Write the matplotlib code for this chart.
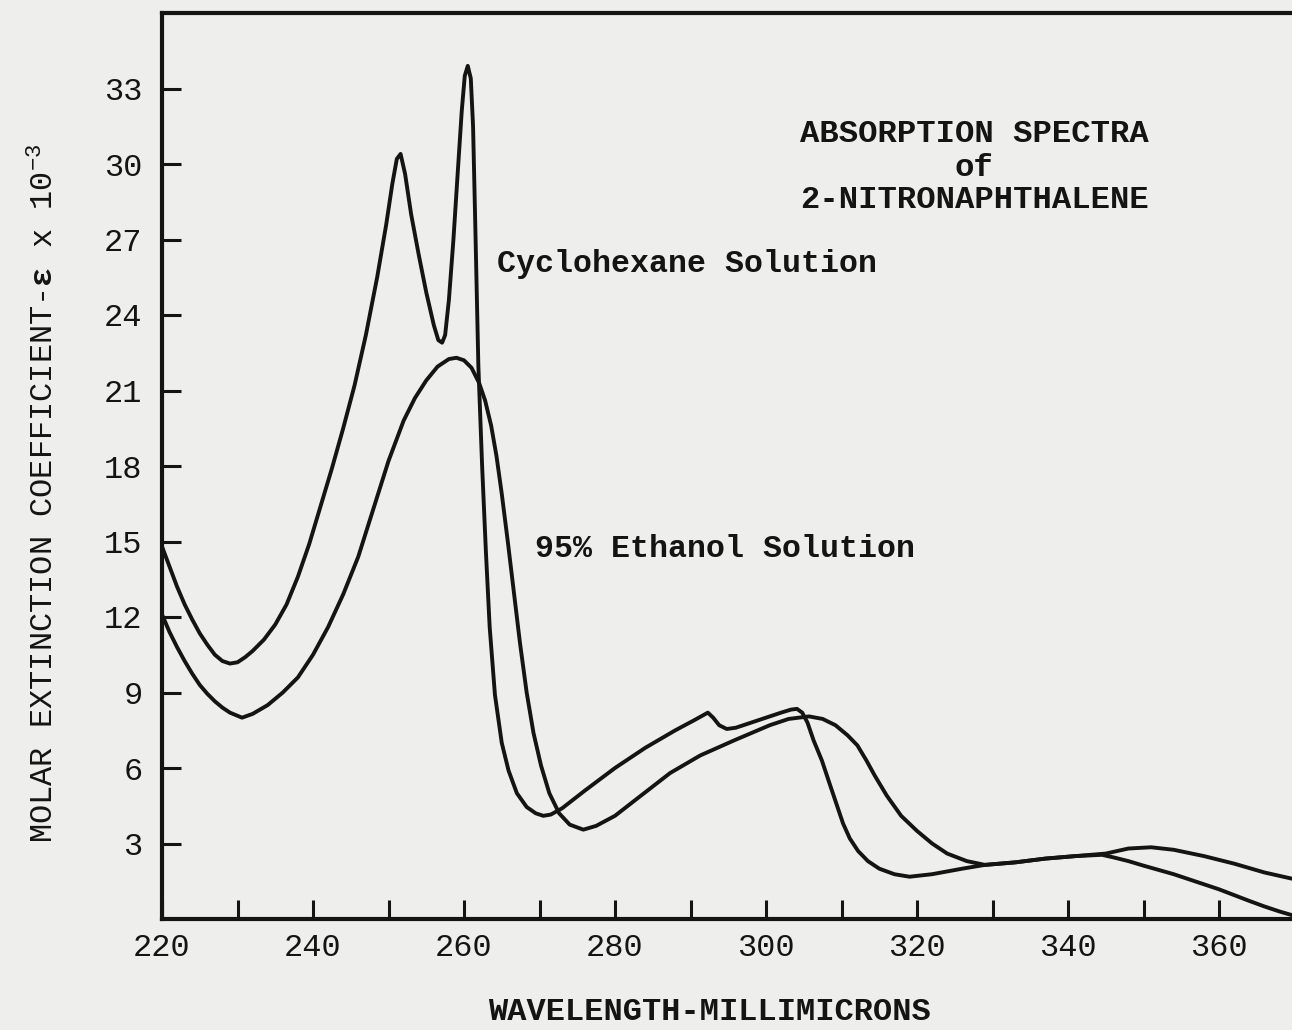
import matplotlib
matplotlib.use("Agg")
import matplotlib.pyplot as plt

# ---- data (wavelength in millimicrons, molar extinction x 1e-3) ----
cyclo_wl = [220, 221, 222, 223, 224, 225, 226, 227, 228, 229, 230, 231, 232, 233.5,
            235, 236.5, 238, 239.5, 241, 242.5, 244, 245.5, 247, 248.5, 249.7,
            250.5, 251.1, 251.6, 252.2, 253, 254, 255, 256, 256.6, 257.1, 257.5,
            258, 258.6, 259.2, 259.7, 260.1, 260.5, 260.9, 261.2, 261.5, 261.9,
            262.4, 262.9, 263.4, 264.1, 265, 265.9, 267, 268.3, 269.5, 270.5,
            271.5, 273, 276, 280, 284, 288, 290.5, 291.7, 292.3, 293, 293.8,
            294.8, 296, 298, 300, 302, 303.3, 304.1, 304.8, 305.5, 306.3, 307.4,
            308.4, 309.3, 310.2, 311.1, 312.2, 313.5, 315, 317, 319, 322, 326,
            329, 333, 337, 341, 344.5, 346, 348, 350, 352, 354, 356, 358, 360,
            362, 364, 366, 368, 369.7]
cyclo_eps = [14.8, 14.0, 13.2, 12.5, 11.9, 11.35, 10.9, 10.5, 10.25, 10.15, 10.2, 10.4,
             10.65, 11.1, 11.7, 12.5, 13.6, 14.9, 16.4, 17.9, 19.5, 21.2, 23.2, 25.5,
             27.6, 29.2, 30.2, 30.4, 29.6, 28.0, 26.4, 24.9, 23.6, 23.0, 22.9, 23.2,
             24.6, 27.0, 29.8, 32.1, 33.5, 33.9, 33.4, 31.5, 27.5, 22.0,
             18.0, 14.6, 11.6, 8.9, 7.0, 5.9, 5.0, 4.45, 4.2, 4.1,
             4.15, 4.4, 5.1, 6.0, 6.8, 7.5, 7.9, 8.1, 8.2, 8.0, 7.7,
             7.55, 7.6, 7.8, 8.0, 8.2, 8.32, 8.35, 8.2, 7.8, 7.1, 6.3,
             5.4, 4.6, 3.8, 3.2, 2.7, 2.3, 2.0, 1.78, 1.68, 1.78, 2.0,
             2.15, 2.25, 2.4, 2.5, 2.55, 2.45, 2.3, 2.12, 1.95, 1.78, 1.58, 1.38, 1.18,
             0.95, 0.72, 0.5, 0.3, 0.15]

ethanol_wl = [220, 221, 222, 223, 224, 225, 226, 227, 228, 229, 230.6, 232, 234, 236,
              238, 240, 242, 244, 246, 248, 250, 252, 253.5, 255, 256.5, 258, 259,
              260, 261, 262, 262.8, 263.6, 264.3, 265, 265.8, 266.6, 267.4, 268.3,
              269.2, 270.2, 271.3, 272.6, 274, 275.8, 277.5, 280, 283, 287.3, 291.3,
              295.8, 300.5, 303, 305.7, 307.5, 309.2, 310.8, 312.1, 313.3, 314.4,
              316, 317.9, 320, 322, 324, 326.6, 329, 333, 337, 341, 345, 348, 351,
              354, 358, 362, 366, 369.7]
ethanol_eps = [12.1, 11.4, 10.8, 10.25, 9.75, 9.3, 8.95, 8.65, 8.4, 8.2, 8.0, 8.15, 8.5,
               9.0, 9.6, 10.5, 11.6, 12.9, 14.4, 16.3, 18.2, 19.8, 20.7, 21.4, 21.95,
               22.25, 22.3, 22.2, 21.9, 21.3, 20.6, 19.6, 18.4, 16.9, 15.0, 13.0, 11.0,
               9.0, 7.4, 6.1, 5.0, 4.2, 3.75, 3.55, 3.7, 4.1, 4.8, 5.8, 6.5,
               7.1, 7.7, 7.95, 8.05, 7.95, 7.7, 7.3, 6.9, 6.3, 5.7,
               4.9, 4.1, 3.5, 3.0, 2.6, 2.3, 2.15, 2.25, 2.4, 2.5, 2.6, 2.8, 2.85,
               2.75, 2.5, 2.2, 1.85, 1.6]

x_major = [220, 240, 260, 280, 300, 320, 340, 360]
x_minor = [230, 250, 270, 290, 310, 330, 350]
y_ticks = [3, 6, 9, 12, 15, 18, 21, 24, 27, 30, 33]

# ---- style ----
INK = "#141414"
PAPER = "#eeeeec"
FONT = ["Liberation Mono", "DejaVu Sans Mono", "DejaVu Sans"]
plt.rcParams["font.family"] = FONT
plt.rcParams["mathtext.fontset"] = "custom"
plt.rcParams["mathtext.rm"] = "Liberation Mono"
plt.rcParams["mathtext.bf"] = "Liberation Mono:bold"
plt.rcParams["mathtext.it"] = "Liberation Mono"

W, H = 1292, 1030
fig = plt.figure(figsize=(W / 100, H / 100), dpi=100, facecolor=PAPER)
ax = fig.add_axes([162 / W, 111 / H, 1132.5 / W, 906 / H], facecolor=PAPER)

for wl, eps in [(cyclo_wl, cyclo_eps), (ethanol_wl, ethanol_eps)]:
    ax.plot(wl, eps, color=INK, lw=2.8, solid_joinstyle="round",
            solid_capstyle="round")

ax.set_xlim(220, 370)
ax.set_ylim(0, 36)

ax.set_xticks(x_major)
ax.set_xticklabels([str(v) for v in x_major])
ax.set_xticks(x_minor, minor=True)
ax.set_yticks(y_ticks)
ax.set_yticklabels([str(v) for v in y_ticks])

ax.tick_params(axis="both", which="both", direction="in", length=14, width=2.2,
               color=INK, labelcolor=INK, labelsize=23)
ax.tick_params(axis="x", which="both", pad=10)
ax.tick_params(axis="y", which="both", pad=14)

for side in ["left", "bottom", "top"]:
    ax.spines[side].set_linewidth(3.0)
    ax.spines[side].set_color(INK)
ax.spines["right"].set_visible(False)

# ---- texts ----
cx = (974 - 162) / 1132.5
for txt, ypx in [("ABSORPTION SPECTRA", 133), ("of", 167), ("2-NITRONAPHTHALENE", 199)]:
    ax.text(cx, 1 - (ypx - 12) / 906, txt, transform=ax.transAxes,
            ha="center", va="center", fontsize=23.2, fontweight="bold", color=INK)

ax.text((497 - 162) / 1132.5, 1 - (263 - 12) / 906, "Cyclohexane Solution",
        transform=ax.transAxes, ha="left", va="center", fontsize=22.8,
        fontweight="bold", color=INK)
ax.text((535 - 162) / 1132.5, 1 - (548 - 12) / 906, "95% Ethanol Solution",
        transform=ax.transAxes, ha="left", va="center", fontsize=22.8,
        fontweight="bold", color=INK)

fig.text(709 / W, 1 - 1012 / H, "WAVELENGTH-MILLIMICRONS", ha="center",
         va="center", fontsize=23, fontweight="bold", color=INK)
fig.text(45 / W, 1 - 493 / H,
         r"MOLAR EXTINCTION COEFFICIENT-$\mathbf{\epsilon}$ x 10$^{-3}$",
         rotation=90, ha="center", va="center", fontsize=23, color=INK)

fig.savefig("out.png", dpi=100, facecolor=PAPER)
